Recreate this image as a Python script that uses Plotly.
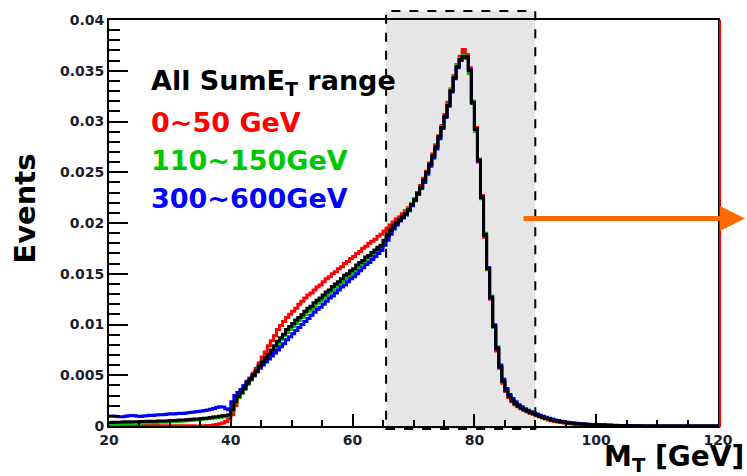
import numpy as np
import plotly.graph_objects as go

# ---------------- data (0.5 GeV bins from 20 to 120 GeV) ----------------
x_min, x_max, bin_w = 20.0, 120.0, 0.5

all_sumet = [
    0.00035, 0.00036, 0.00038, 0.00037, 0.00040, 0.00041, 0.00040, 0.00042, 0.00043, 0.00042,
    0.00044, 0.00045, 0.00046, 0.00045, 0.00047, 0.00048, 0.00049, 0.00050, 0.00050, 0.00052,
    0.00053, 0.00055, 0.00056, 0.00058, 0.00060, 0.00062, 0.00064, 0.00066, 0.00068, 0.00070,
    0.00073, 0.00076, 0.00080, 0.00084, 0.00088, 0.00092, 0.00096, 0.00100, 0.00104, 0.00110,
    0.00160, 0.00240, 0.00290, 0.00330, 0.00370, 0.00420, 0.00460, 0.00500, 0.00540, 0.00590,
    0.00630, 0.00670, 0.00705, 0.00750, 0.00790, 0.00835, 0.00870, 0.00905, 0.00950, 0.00980,
    0.01010, 0.01045, 0.01070, 0.01095, 0.01130, 0.01160, 0.01180, 0.01215, 0.01240, 0.01260,
    0.01290, 0.01320, 0.01340, 0.01375, 0.01400, 0.01420, 0.01450, 0.01485, 0.01500, 0.01530,
    0.01550, 0.01585, 0.01610, 0.01630, 0.01665, 0.01680, 0.01710, 0.01735, 0.01760, 0.01780,
    0.01830, 0.01880, 0.01930, 0.01970, 0.02000, 0.02030, 0.02060, 0.02090, 0.02130, 0.02180,
    0.02230, 0.02290, 0.02350, 0.02420, 0.02500, 0.02580, 0.02660, 0.02750, 0.02850, 0.02940,
    0.03050, 0.03160, 0.03300, 0.03430, 0.03540, 0.03610, 0.03640, 0.03630, 0.03500, 0.03180,
    0.02920, 0.02620, 0.02250, 0.01880, 0.01550, 0.01270, 0.00980, 0.00760, 0.00580, 0.00440,
    0.00350, 0.00290, 0.00250, 0.00220, 0.00195, 0.00175, 0.00160, 0.00145, 0.00130, 0.00120,
    0.00108, 0.00096, 0.00086, 0.00076, 0.00068, 0.00060, 0.00053, 0.00047, 0.00042, 0.00037,
    0.00033, 0.00029, 0.00026, 0.00023, 0.00021, 0.00019, 0.00017, 0.00015, 0.00013, 0.00012,
    0.00011, 0.00010, 0.00009, 0.00008, 0.00007, 0.00006, 0.00005, 0.00004, 0.00004, 0.00003,
    0.00003, 0.00002, 0.00002, 0.00002, 0.00001, 0.00001, 0.00001, 0.00001, 0.00001, 0.00001,
    0.00001, 0.0, 0.0, 0.0, 0.0, 0.0, 0.0, 0.0, 0.0, 0.0,
    0.0, 0.0, 0.0, 0.0, 0.0, 0.0, 0.0, 0.0, 0.0, 0.0,
]

sumet_0_50 = [
    0.00010, 0.00008, 0.00009, 0.00007, 0.00008, 0.00006, 0.00007, 0.00005, 0.00006, 0.00005,
    0.00005, 0.00004, 0.00005, 0.00004, 0.00003, 0.00004, 0.00003, 0.00003, 0.00002, 0.00003,
    0.00002, 0.00002, 0.00003, 0.00002, 0.00002, 0.00002, 0.00001, 0.00002, 0.00001, 0.00001,
    0.00002, 0.00003, 0.00004, 0.00006, 0.00010, 0.00015, 0.00022, 0.00030, 0.00045, 0.00070,
    0.00110, 0.00200, 0.00290, 0.00340, 0.00380, 0.00430, 0.00470, 0.00520, 0.00570, 0.00620,
    0.00680, 0.00730, 0.00790, 0.00840, 0.00890, 0.00950, 0.00990, 0.01030, 0.01070, 0.01100,
    0.01130, 0.01160, 0.01200, 0.01230, 0.01260, 0.01290, 0.01310, 0.01340, 0.01370, 0.01390,
    0.01420, 0.01450, 0.01470, 0.01500, 0.01520, 0.01550, 0.01570, 0.01600, 0.01620, 0.01650,
    0.01670, 0.01700, 0.01720, 0.01750, 0.01770, 0.01800, 0.01820, 0.01840, 0.01870, 0.01890,
    0.01920, 0.01950, 0.01980, 0.02010, 0.02040, 0.02060, 0.02090, 0.02120, 0.02150, 0.02190,
    0.02240, 0.02300, 0.02370, 0.02440, 0.02510, 0.02590, 0.02680, 0.02770, 0.02860, 0.02960,
    0.03070, 0.03190, 0.03320, 0.03450, 0.03560, 0.03640, 0.03710, 0.03660, 0.03530, 0.03200,
    0.02940, 0.02600, 0.02270, 0.01860, 0.01560, 0.01250, 0.01000, 0.00740, 0.00570, 0.00420,
    0.00340, 0.00280, 0.00240, 0.00210, 0.00190, 0.00170, 0.00155, 0.00140, 0.00125, 0.00115,
    0.00100, 0.00090, 0.00080, 0.00070, 0.00060, 0.00052, 0.00045, 0.00040, 0.00035, 0.00030,
    0.00026, 0.00022, 0.00019, 0.00016, 0.00013, 0.00011, 0.00009, 0.00007, 0.00006, 0.00005,
    0.00004, 0.00003, 0.00003, 0.00002, 0.00002, 0.00001, 0.0, 0.0, 0.0, 0.0,
    0.0, 0.0, 0.0, 0.0, 0.0, 0.0, 0.0, 0.0, 0.0, 0.0,
    0.0, 0.0, 0.0, 0.0, 0.0, 0.0, 0.0, 0.0, 0.0, 0.0,
    0.0, 0.0, 0.0, 0.0, 0.0, 0.0, 0.0, 0.0, 0.0, 0.0,
]

sumet_110_150 = [
    0.00020, 0.00022, 0.00018, 0.00021, 0.00024, 0.00022, 0.00025, 0.00023, 0.00026, 0.00028,
    0.00027, 0.00030, 0.00029, 0.00032, 0.00034, 0.00033, 0.00036, 0.00038, 0.00037, 0.00040,
    0.00042, 0.00045, 0.00044, 0.00047, 0.00050, 0.00052, 0.00054, 0.00057, 0.00060, 0.00062,
    0.00065, 0.00068, 0.00072, 0.00075, 0.00079, 0.00083, 0.00087, 0.00091, 0.00096, 0.00102,
    0.00150, 0.00230, 0.00280, 0.00320, 0.00360, 0.00410, 0.00450, 0.00490, 0.00530, 0.00580,
    0.00620, 0.00660, 0.00700, 0.00730, 0.00770, 0.00810, 0.00850, 0.00890, 0.00920, 0.00950,
    0.00980, 0.01010, 0.01040, 0.01070, 0.01100, 0.01130, 0.01150, 0.01180, 0.01210, 0.01230,
    0.01260, 0.01290, 0.01310, 0.01340, 0.01370, 0.01390, 0.01420, 0.01450, 0.01470, 0.01500,
    0.01520, 0.01550, 0.01580, 0.01610, 0.01640, 0.01660, 0.01690, 0.01720, 0.01750, 0.01770,
    0.01820, 0.01870, 0.01920, 0.01960, 0.02000, 0.02030, 0.02060, 0.02100, 0.02140, 0.02190,
    0.02240, 0.02280, 0.02340, 0.02410, 0.02490, 0.02570, 0.02650, 0.02740, 0.02840, 0.02950,
    0.03050, 0.03170, 0.03310, 0.03440, 0.03560, 0.03620, 0.03650, 0.03620, 0.03470, 0.03200,
    0.02900, 0.02630, 0.02240, 0.01900, 0.01540, 0.01280, 0.00970, 0.00780, 0.00590, 0.00450,
    0.00360, 0.00300, 0.00260, 0.00230, 0.00200, 0.00180, 0.00165, 0.00150, 0.00135, 0.00125,
    0.00112, 0.00100, 0.00090, 0.00080, 0.00072, 0.00064, 0.00057, 0.00050, 0.00045, 0.00040,
    0.00035, 0.00031, 0.00028, 0.00025, 0.00022, 0.00020, 0.00018, 0.00016, 0.00014, 0.00012,
    0.00011, 0.00010, 0.00009, 0.00008, 0.00007, 0.00006, 0.00005, 0.00005, 0.00004, 0.00004,
    0.00003, 0.00003, 0.00002, 0.00002, 0.00002, 0.00001, 0.0, 0.0, 0.0, 0.0,
    0.0, 0.0, 0.0, 0.0, 0.0, 0.0, 0.0, 0.0, 0.0, 0.0,
    0.0, 0.0, 0.0, 0.0, 0.0, 0.0, 0.0, 0.0, 0.0, 0.0,
]

sumet_300_600 = [
    0.00095, 0.00098, 0.00094, 0.00090, 0.00092, 0.00096, 0.00100, 0.00104, 0.00100, 0.00097,
    0.00094, 0.00098, 0.00102, 0.00106, 0.00104, 0.00108, 0.00112, 0.00110, 0.00114, 0.00118,
    0.00120, 0.00118, 0.00122, 0.00126, 0.00124, 0.00128, 0.00132, 0.00136, 0.00140, 0.00143,
    0.00147, 0.00152, 0.00158, 0.00165, 0.00172, 0.00182, 0.00190, 0.00188, 0.00170, 0.00160,
    0.00240, 0.00300, 0.00330, 0.00360, 0.00400, 0.00440, 0.00470, 0.00500, 0.00540, 0.00570,
    0.00600, 0.00630, 0.00660, 0.00690, 0.00720, 0.00750, 0.00780, 0.00810, 0.00850, 0.00880,
    0.00910, 0.00940, 0.00970, 0.01000, 0.01030, 0.01060, 0.01090, 0.01120, 0.01150, 0.01170,
    0.01200, 0.01230, 0.01260, 0.01280, 0.01310, 0.01340, 0.01370, 0.01390, 0.01420, 0.01450,
    0.01470, 0.01500, 0.01530, 0.01560, 0.01590, 0.01610, 0.01640, 0.01670, 0.01700, 0.01730,
    0.01780, 0.01830, 0.01890, 0.01940, 0.01980, 0.02020, 0.02050, 0.02080, 0.02120, 0.02170,
    0.02220, 0.02280, 0.02340, 0.02400, 0.02480, 0.02560, 0.02640, 0.02730, 0.02830, 0.02930,
    0.03040, 0.03150, 0.03290, 0.03420, 0.03530, 0.03600, 0.03630, 0.03640, 0.03510, 0.03190,
    0.02930, 0.02610, 0.02260, 0.01890, 0.01560, 0.01260, 0.00990, 0.00770, 0.00600, 0.00460,
    0.00370, 0.00310, 0.00270, 0.00240, 0.00210, 0.00190, 0.00170, 0.00155, 0.00140, 0.00130,
    0.00118, 0.00105, 0.00095, 0.00085, 0.00076, 0.00068, 0.00060, 0.00053, 0.00047, 0.00042,
    0.00037, 0.00033, 0.00029, 0.00026, 0.00024, 0.00022, 0.00020, 0.00018, 0.00016, 0.00015,
    0.00014, 0.00013, 0.00012, 0.00011, 0.00010, 0.00008, 0.00007, 0.00006, 0.00005, 0.00004,
    0.00004, 0.00003, 0.00003, 0.00002, 0.00002, 0.00001, 0.00001, 0.0, 0.0, 0.0,
    0.0, 0.0, 0.0, 0.0, 0.0, 0.0, 0.0, 0.0, 0.0, 0.0,
    0.0, 0.0, 0.0, 0.0, 0.0, 0.0, 0.0, 0.0, 0.0, 0.0,
]

legend_labels = ["All SumE<sub>T</sub> range", "0~50 GeV", "110~150GeV", "300~600GeV"]
legend_colors = ["#000000", "#FF0000", "#00C800", "#0000FF"]
x_ticks = [20, 40, 60, 80, 100, 120]
window = (65.5, 90.0)   # highlighted M_T window

# ---------------- layout helpers (pixel -> paper) ----------------
W, H = 747, 476
L, R, T, B = 109, 718, 15, 426
def px(x):
    return (x - L) / (R - L)
def py(y):
    return (B - y) / (B - T)

edges = np.arange(x_min, x_max + bin_w / 2, bin_w)
for s in (all_sumet, sumet_0_50, sumet_110_150, sumet_300_600):
    assert len(s) == len(edges) - 1, len(s)

def step_trace(vals, color, width, name):
    return go.Scatter(x=edges, y=list(vals) + [vals[-1]], mode="lines",
                      line=dict(color=color, width=width, shape="hv"),
                      name=name, showlegend=False, hoverinfo="skip")

fig = go.Figure()
fig.add_trace(step_trace(sumet_0_50, legend_colors[1], 3, "0-50"))
fig.add_trace(step_trace(sumet_110_150, legend_colors[2], 3, "110-150"))
fig.add_trace(step_trace(sumet_300_600, legend_colors[3], 3, "300-600"))
fig.add_trace(step_trace(all_sumet, legend_colors[0], 3, "all"))

tickfont = dict(family="DejaVu Sans", size=14, color="#1c1c2c", weight="bold")

fig.update_layout(
    width=W, height=H,
    margin=dict(l=L, r=W - R, t=T, b=H - B),
    paper_bgcolor="white",
    plot_bgcolor="rgba(0,0,0,0)",
    showlegend=False,
    xaxis=dict(range=[x_min, x_max], tickmode="array", tickvals=x_ticks,
               ticks="inside", ticklen=12, tickwidth=2, tickcolor="black",
               showline=True, linewidth=2, linecolor="black", mirror=True,
               showgrid=False, zeroline=False, tickfont=tickfont,
               minor=dict(dtick=5, tick0=20, ticks="inside", ticklen=6,
                          tickwidth=2, tickcolor="black", showgrid=False)),
    yaxis=dict(range=[0, 0.04], tickmode="linear", tick0=0, dtick=0.005,
               ticks="inside", ticklen=19, tickwidth=2, tickcolor="black",
               showline=True, linewidth=2, linecolor="black", mirror=True,
               showgrid=False, zeroline=False, tickfont=tickfont,
               minor=dict(dtick=0.001, ticks="inside", ticklen=11,
                          tickwidth=2, tickcolor="black", showgrid=False)),
)

# shaded M_T window with dashed border
fig.add_shape(type="rect", xref="x", yref="paper",
              x0=window[0], x1=window[1], y0=py(429), y1=py(6),
              fillcolor="#E6E6E6", line=dict(color="black", width=2, dash="dash"),
              layer="below")
# red vertical line just right of the frame
fig.add_shape(type="line", xref="paper", yref="paper", x0=px(720), x1=px(720),
              y0=py(427), y1=py(15),
              line=dict(color="#FF0000", width=2), layer="above")

# legend-like text
row_y = [78, 119, 157, 196]
for lab, col, yy in zip(legend_labels, legend_colors, row_y):
    fig.add_annotation(x=px(149), y=py(yy), xref="paper", yref="paper",
                       text=lab, showarrow=False, xanchor="left", yanchor="middle",
                       font=dict(family="DejaVu Sans", size=27, color=col, weight="bold"))

# axis titles
fig.add_annotation(x=px(25), y=py(206), xref="paper", yref="paper", text="Events",
                   textangle=-90, showarrow=False, xanchor="center", yanchor="middle",
                   font=dict(family="DejaVu Sans", size=29, color="black", weight="bold"))
fig.add_annotation(x=px(746), y=py(459), xref="paper", yref="paper",
                   text="M<sub>T</sub> [GeV]", showarrow=False,
                   xanchor="right", yanchor="middle",
                   font=dict(family="DejaVu Sans", size=28, color="black", weight="bold"))

# orange arrow
fig.add_annotation(x=px(745), y=py(216), xref="paper", yref="paper", text="",
                   showarrow=True, ax=-223, ay=0, arrowcolor="#FF6A00",
                   arrowwidth=5, arrowhead=2, arrowsize=1, standoff=0)

fig.write_html("out.html")
